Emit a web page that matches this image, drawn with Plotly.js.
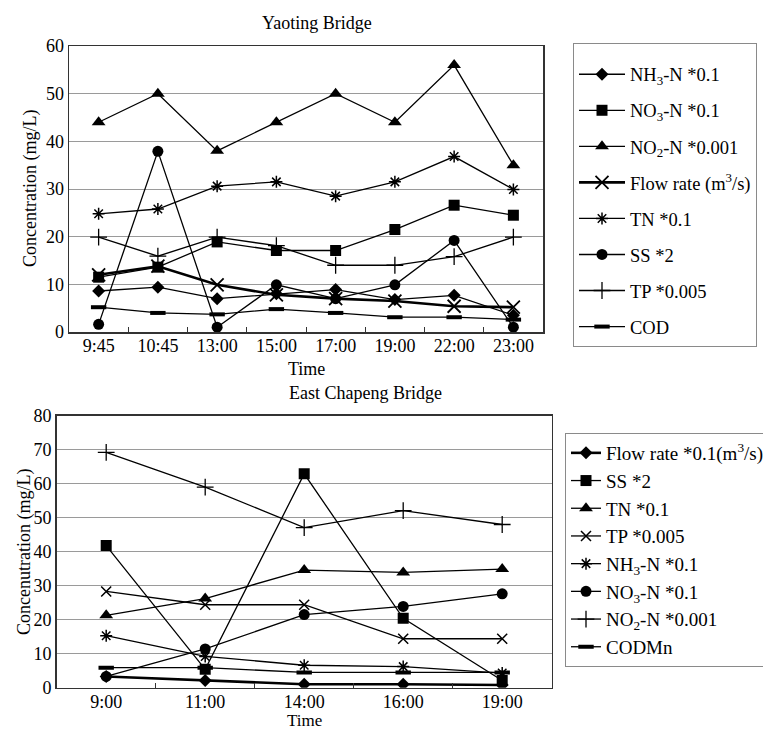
<!DOCTYPE html>
<html>
<head>
<meta charset="utf-8">
<script src="https://cdn.plot.ly/plotly-3.0.1.min.js"></script>
<style>html,body{margin:0;padding:0;background:#fff;}#chart{width:763px;height:729px;}</style>
</head>
<body>
<div id="chart"></div>
<script>
// ---- Yaoting Bridge (top) ----
var timesTop = ['9:45','10:45','13:00','15:00','17:00','19:00','22:00','23:00'];
var topNH3  = [8.6, 9.4, 7.0, 8.0, 8.9, 6.8, 7.7, 3.5];
var topNO3  = [11.5, 13.6, 18.9, 17.1, 17.1, 21.5, 26.6, 24.5];
var topNO2  = [44, 50, 38, 44, 50, 44, 56, 35];
var topFlow = [12.0, 13.8, 9.9, 7.8, 7.0, 6.5, 5.4, 5.2];
var topTN   = [24.8, 25.8, 30.6, 31.5, 28.5, 31.5, 36.8, 29.9];
var topSS   = [1.6, 37.9, 1.0, 9.9, 7.0, 9.9, 19.2, 1.0];
var topTP   = [19.9, 15.9, 19.9, 18.1, 14.0, 14.0, 15.8, 19.9];
var topCOD  = [5.2, 4.0, 3.7, 4.8, 4.0, 3.1, 3.1, 2.6];

// ---- East Chapeng Bridge (bottom) ----
var timesBot = ['9:00','11:00','14:00','16:00','19:00'];
var botFlow  = [3.3, 2.1, 1.0, 1.0, 0.8];
var botSS    = [41.8, 5.4, 62.9, 20.4, 2.1];
var botTN    = [21.3, 26.2, 34.6, 33.9, 34.9];
var botTP    = [28.3, 24.4, 24.4, 14.4, 14.4];
var botNH3   = [15.3, 9.2, 6.6, 6.2, 4.3];
var botNO3   = [3.3, 11.4, 21.5, 23.9, 27.6];
var botNO2   = [69.2, 59.0, 47.1, 52.1, 48.0];
var botCODMn = [5.9, 5.9, 4.5, 4.5, 4.5];

var W = 763, H = 729;
function px(x){ return x / W; }
function py(y){ return 1 - y / H; }

var FONT = '"Liberation Serif", "Times New Roman", serif';

var symStyles = {
  diamond: {symbol:'diamond', size:10, lw:0},
  square:  {symbol:'square', size:11, lw:0},
  triangle:{symbol:'triangle-up', size:12, lw:0},
  circle:  {symbol:'circle', size:11, lw:0},
  bigx:    {symbol:'x-thin-open', size:13, lw:1.8},
  smallx:  {symbol:'x-thin-open', size:10, lw:1.5},
  aster:   {symbol:'asterisk-open', size:10, lw:1.5},
  plus:    {symbol:'cross-thin-open', size:12, lw:1.3},
  dash:    {symbol:'line-ew-open', size:11, lw:4}
};

function tr(name, xs, ys, sym, lw, xa, ya, legend, grp){
  var s = symStyles[sym];
  return {
    type:'scatter', mode:'lines+markers', name:name, x:xs, y:ys,
    xaxis:xa, yaxis:ya, legend:legend, legendgroup:grp,
    line:{color:'#000', width:lw},
    marker:{symbol:s.symbol, size:s.size, color:'#000', line:{color:'#000', width:s.lw}},
    hoverinfo:'x+y+name'
  };
}

var data = [
  tr('NH<sub>3</sub>-N *0.1', timesTop, topNH3, 'diamond', 1.3, 'x', 'y', 'legend', 't1'),
  tr('NO<sub>3</sub>-N *0.1', timesTop, topNO3, 'square', 1.3, 'x', 'y', 'legend', 't2'),
  tr('NO<sub>2</sub>-N *0.001', timesTop, topNO2, 'triangle', 1.3, 'x', 'y', 'legend', 't3'),
  tr('Flow rate (m<sup>3</sup>/s)', timesTop, topFlow, 'bigx', 2.6, 'x', 'y', 'legend', 't4'),
  tr('TN *0.1', timesTop, topTN, 'aster', 1.3, 'x', 'y', 'legend', 't5'),
  tr('SS *2', timesTop, topSS, 'circle', 1.3, 'x', 'y', 'legend', 't6'),
  tr('TP *0.005', timesTop, topTP, 'plus', 1.3, 'x', 'y', 'legend', 't7'),
  tr('COD', timesTop, topCOD, 'dash', 1.3, 'x', 'y', 'legend', 't8'),

  tr('Flow rate *0.1(m<sup>3</sup>/s)', timesBot, botFlow, 'diamond', 2.6, 'x2', 'y2', 'legend2', 'b1'),
  tr('SS *2', timesBot, botSS, 'square', 1.3, 'x2', 'y2', 'legend2', 'b2'),
  tr('TN *0.1', timesBot, botTN, 'triangle', 1.3, 'x2', 'y2', 'legend2', 'b3'),
  tr('TP *0.005', timesBot, botTP, 'smallx', 1.3, 'x2', 'y2', 'legend2', 'b4'),
  tr('NH<sub>3</sub>-N *0.1', timesBot, botNH3, 'aster', 1.3, 'x2', 'y2', 'legend2', 'b5'),
  tr('NO<sub>3</sub>-N *0.1', timesBot, botNO3, 'circle', 1.3, 'x2', 'y2', 'legend2', 'b6'),
  tr('NO<sub>2</sub>-N *0.001', timesBot, botNO2, 'plus', 1.3, 'x2', 'y2', 'legend2', 'b7'),
  tr('CODMn', timesBot, botCODMn, 'dash', 1.3, 'x2', 'y2', 'legend2', 'b8')
];

var xaxisBase = {
  type:'category', showline:true, linecolor:'#333', linewidth:1.5, mirror:true,
  ticks:'inside', tickson:'boundaries', ticklen:5, tickcolor:'#333', tickwidth:1,
  showgrid:false, zeroline:false, fixedrange:true, ticklabelstandoff:-3,
  tickfont:{family:FONT, size:18, color:'#000'}
};
var yaxisBase = {
  showline:true, linecolor:'#333', linewidth:1.5, mirror:true,
  ticks:'', showgrid:true, gridcolor:'#9a9a9a', gridwidth:1, zeroline:false,
  dtick:10, fixedrange:true,
  tickfont:{family:FONT, size:18, color:'#000'}
};

var layout = {
  width:W, height:H, margin:{l:0, r:0, t:0, b:0, autoexpand:false},
  paper_bgcolor:'#fff', plot_bgcolor:'#fff',
  font:{family:FONT, color:'#000'},
  showlegend:true,
  xaxis: Object.assign({}, xaxisBase, {domain:[px(69), px(543)], anchor:'y', range:[-0.5, 7.5]}),
  yaxis: Object.assign({}, yaxisBase, {domain:[py(332), py(46)], anchor:'x', range:[0, 60]}),
  xaxis2: Object.assign({}, xaxisBase, {domain:[px(56.7), px(551.7)], anchor:'y2', range:[-0.5, 4.5]}),
  yaxis2: Object.assign({}, yaxisBase, {domain:[py(687.7), py(415.7)], anchor:'x2', range:[0, 80]}),
  legend:{
    x:px(573), y:py(43), xanchor:'left', yanchor:'top',
    bordercolor:'#8a8a8a', borderwidth:1, bgcolor:'#fff',
    font:{family:FONT, size:18.5, color:'#000'},
    title:{text:' ', font:{family:FONT, size:9}},
    tracegroupgap:9, itemwidth:46, traceorder:'grouped'
  },
  legend2:{
    x:px(565), y:py(433), xanchor:'left', yanchor:'top',
    bordercolor:'#8a8a8a', borderwidth:1, bgcolor:'#fff',
    font:{family:FONT, size:19, color:'#000'},
    tracegroupgap:0, itemwidth:30, traceorder:'grouped'
  },
  annotations:[
    {text:'Yaoting Bridge', x:px(317), y:py(23), xref:'paper', yref:'paper', showarrow:false, xanchor:'center', yanchor:'middle', font:{family:FONT, size:18, color:'#000'}},
    {text:'Time', x:px(306), y:py(369), xref:'paper', yref:'paper', showarrow:false, xanchor:'center', yanchor:'middle', font:{family:FONT, size:18, color:'#000'}},
    {text:'Concentration (mg/L)', x:px(30), y:py(189), xref:'paper', yref:'paper', showarrow:false, xanchor:'center', yanchor:'middle', textangle:-90, font:{family:FONT, size:18, color:'#000'}},
    {text:'East Chapeng Bridge', x:px(365), y:py(393), xref:'paper', yref:'paper', showarrow:false, xanchor:'center', yanchor:'middle', font:{family:FONT, size:18, color:'#000'}},
    {text:'Time', x:px(304), y:py(720), xref:'paper', yref:'paper', showarrow:false, xanchor:'center', yanchor:'middle', font:{family:FONT, size:17, color:'#000'}},
    {text:'Concenutration (mg/L)', x:px(24), y:py(552), xref:'paper', yref:'paper', showarrow:false, xanchor:'center', yanchor:'middle', textangle:-90, font:{family:FONT, size:18, color:'#000'}}
  ]
};

Plotly.newPlot('chart', data, layout, {displayModeBar:false, staticPlot:true});
</script>
</body>
</html>
